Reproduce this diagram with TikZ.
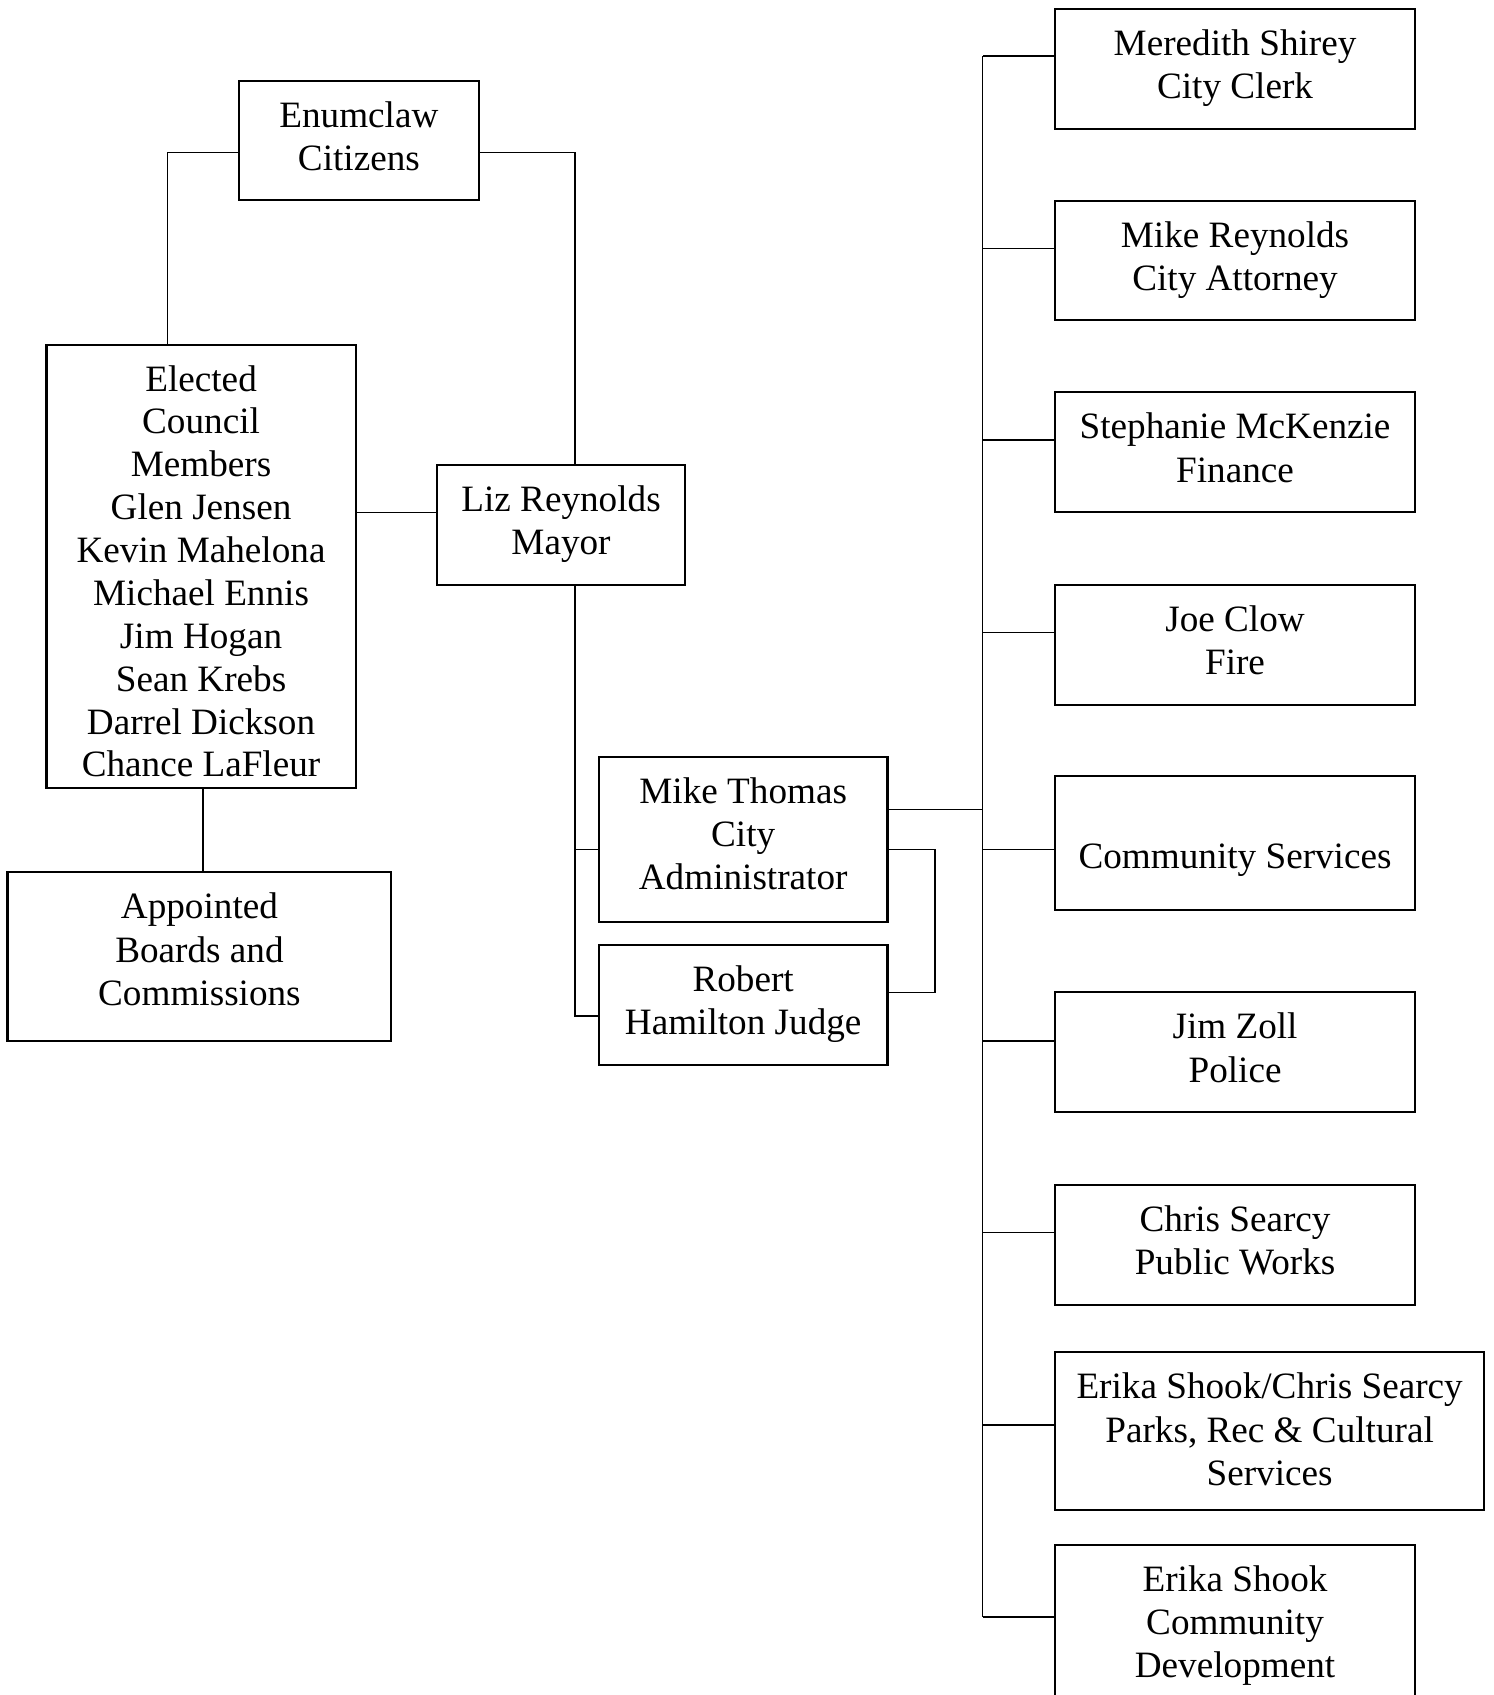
\documentclass[tikz,border=0pt]{standalone}
\usepackage{fontspec}
\setmainfont{Liberation Serif}
\usetikzlibrary{calc}
\tikzset{
  box/.style={draw, line width=1pt, inner sep=0pt, outer sep=0pt},
  lbl/.style={inner sep=0pt, outer sep=0pt, align=center, anchor=north,
    font=\fontsize{17.2}{20}\selectfont},
  conn/.style={line width=0.75pt},
}
% [label options] name, centre, width, height, text offset (px below top), text
\newcommand\obox[7][]{%
  \node[box, minimum width=#4, minimum height=#5] (#2) at (#3) {};
  \node[lbl,#1] (#2-t) at ($(#2.north)+(0,#6)$) {\strut #7};
}
\begin{document}
\begin{tikzpicture}[x=0.5pt,y=-0.5pt]
\useasboundingbox (0,0) rectangle (1382,1568);
\clip (0,0) rectangle (1382,1568);
% left side
\obox{cit}{332,130}{111pt}{55pt}{15}{Enumclaw\\Citizens}
\obox[font=\fontsize{17.2}{19.83}\selectfont]{council}{186,524}{143pt}{205pt}{15}{Elected\\Council\\Members\\Glen Jensen\\Kevin Mahelona\\Michael Ennis\\Jim Hogan\\Sean Krebs\\Darrel Dickson\\Chance LaFleur}
\obox{appt}{184.5,885}{177.5pt}{78pt}{15}{Appointed\\Boards and\\Commissions}
\obox{mayor}{519,485.5}{115pt}{55.5pt}{15}{Liz Reynolds\\Mayor}
\obox{admin}{687.5,776.5}{133.5pt}{76.5pt}{15}{Mike Thomas\\City\\Administrator}
\obox{judge}{687.5,929.5}{133.5pt}{55.5pt}{15}{Robert\\Hamilton Judge}
% right side
\obox{d1}{1142.5,63.5}{166.5pt}{55.5pt}{15}{Meredith Shirey\\City Clerk}
\obox{d2}{1142.5,241}{166.5pt}{55pt}{15}{Mike Reynolds\\City Attorney}
\obox{d3}{1142.5,418.5}{166.5pt}{55.5pt}{15}{Stephanie McKenzie\\Finance}
\obox{d4}{1142.5,596.5}{166.5pt}{55.5pt}{15}{Joe Clow\\Fire}
\obox{d5}{1142.5,780}{166.5pt}{62pt}{57}{Community Services}
\obox{d6}{1142.5,973.5}{166.5pt}{55.5pt}{15}{Jim Zoll\\Police}
\obox{d7}{1142.5,1151.5}{166.5pt}{55.5pt}{15}{Chris Searcy\\Public Works}
\obox{d8}{1174.5,1324}{198.5pt}{73pt}{15}{Erika Shook/Chris Searcy\\Parks, Rec \& Cultural\\Services}
\obox{d9}{1142.5,1502}{166.5pt}{73pt}{15}{Erika Shook\\Community\\Development}
% connectors
\draw[conn] ($(cit.north west)+(0,66)$) -| ($(council.north west)+(112,0)$);
\draw[conn] ($(cit.north east)+(0,66)$) -| ($(mayor.north west)+(128,0)$);
\draw[conn] ($(council.north east)+(0,155)$) -- ($(mayor.north west)+(0,44)$);
\draw[conn] ($(council.south west)+(145,0)$) coordinate (ct) -- (ct |- appt.north);
\coordinate (mx) at ($(mayor.south west)+(128,0)$);
\draw[conn] (mx) |- ($(judge.north west)+(0,66)$);
\draw[conn] ($(admin.north west)+(0,86)$) -- ++(-22,0);
\draw[conn] ($(admin.north east)+(0,86)$) -- ++(44,0) |- ($(judge.north east)+(0,44)$);
\coordinate (bt) at ($(d1.north west)+(-67,44)$);
\coordinate (bb) at ($(d9.north west)+(-67,67)$);
\draw[conn] (bt) -- (bb);
\draw[conn] ($(admin.north east)+(0,49)$) -- (bt |- {$(admin.north east)+(0,49)$});
\foreach \n/\o in {d1/44,d2/44,d3/44,d4/44,d5/68,d6/45,d7/44,d8/67,d9/67}{
  \draw[conn] ($(\n.north west)+(0,\o)$) -- ++(-67,0);
}
\end{tikzpicture}
\end{document}
